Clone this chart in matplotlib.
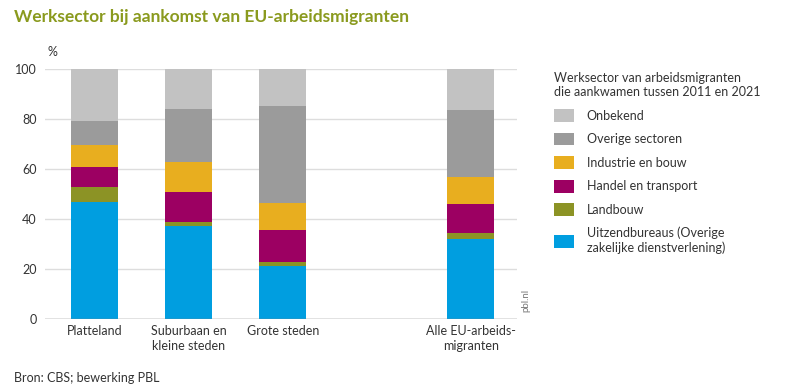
import numpy as np
import matplotlib
matplotlib.use("Agg")
import matplotlib.pyplot as plt
from matplotlib.patches import Patch

plt.rcParams["font.family"] = ["Lato", "DejaVu Sans"]

categories = ["Platteland", "Suburbaan en\nkleine steden", "Grote steden",
              "Alle EU-arbeids-\nmigranten"]
positions = [0, 1, 2, 4]

sectors = ["Uitzendbureaus (Overige\nzakelijke dienstverlening)", "Landbouw",
           "Handel en transport", "Industrie en bouw", "Overige sectoren",
           "Onbekend"]
uitzend = [46.7, 37.1, 21.3, 31.9]
landbouw = [6.2, 1.6, 1.6, 2.7]
handel = [8.1, 12.0, 12.7, 11.4]
industrie = [8.8, 12.1, 10.9, 11.0]
overig = [9.6, 21.3, 38.8, 26.6]
onbekend = [20.6, 15.9, 14.7, 16.4]
colors = ["#009ee0", "#8c9325", "#9c0062", "#e8ae1f", "#9b9b9b", "#c2c2c2"]

series = [uitzend, landbouw, handel, industrie, overig, onbekend]

fig = plt.figure(figsize=(8, 3.92), dpi=100)
ax = fig.add_axes([45 / 800, 1 - 319 / 392, (517 - 45) / 800, 250 / 392])

bottom = np.zeros(len(positions))
for vals, col in zip(series, colors):
    ax.bar(positions, vals, 0.5, bottom=bottom, color=col, zorder=3)
    bottom += np.array(vals)

ax.set_xlim(-0.53, 4.49)
ax.set_ylim(0, 100)
ax.set_yticks(np.arange(0, 101, 20))
ax.set_xticks(positions)
ax.set_xticklabels(categories, fontsize=9, color="#333333", linespacing=1.3)
ax.tick_params(axis="both", length=0, labelsize=9, colors="#333333")
ax.tick_params(axis="y", pad=6)
ax.tick_params(axis="x", pad=4)
for s in ax.spines.values():
    s.set_visible(False)
ax.grid(True, axis="y", color="#dddddd", linewidth=1, zorder=0)
ax.axhline(0, color="#888888", linewidth=1, zorder=4)

fig.text(48 / 800, 1 - 52 / 392, "%", fontsize=9, color="#333333",
         ha="left", va="center")
fig.text(526 / 800, 1 - 300 / 392, "pbl.nl", fontsize=7, color="#777777",
         rotation=90, ha="center", va="center")

fig.text(14 / 800, 1 - 17 / 392, "Werksector bij aankomst van EU-arbeidsmigranten",
         fontsize=12.5, fontweight="bold", color="#8a9a1e", ha="left",
         va="center")
fig.text(14 / 800, 1 - 378 / 392, "Bron: CBS; bewerking PBL", fontsize=9,
         color="#333333", ha="left", va="center")

handles = [Patch(facecolor=c, label=l) for c, l in zip(colors, sectors)]
leg = fig.legend(handles=handles[::-1],
                 title="Werksector van arbeidsmigranten\ndie aankwamen tussen 2011 en 2021",
                 loc="upper left", bbox_to_anchor=(543 / 800, 1 - 61 / 392),
                 frameon=False, fontsize=9, title_fontsize=9,
                 handlelength=1.6, handleheight=1.2, handletextpad=1.0,
                 labelspacing=0.86, alignment="left")
for t in leg.get_texts():
    t.set_color("#333333")
leg.get_title().set_color("#333333")

fig.savefig("out.png", dpi=100)
